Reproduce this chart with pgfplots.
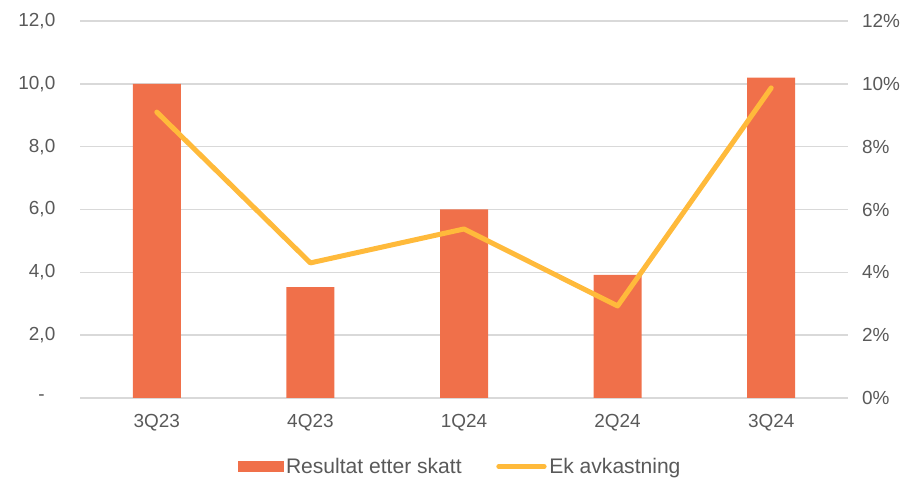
\documentclass[border=0pt]{standalone}
\usepackage{pgfplots}
\pgfplotsset{compat=1.18}
\usepackage{fontspec}
\setmainfont{Liberation Sans}
\definecolor{barc}{HTML}{F0704A}
\definecolor{linec}{HTML}{FFBA3B}
\definecolor{txt}{HTML}{595959}
\definecolor{gridc}{HTML}{D9D9D9}
\begin{document}
\begin{tikzpicture}
\useasboundingbox (0pt,0pt) rectangle (682.5pt,358.5pt);
\begin{axis}[
 at={(60pt,60pt)}, anchor=south west, scale only axis,
 width=576pt, height=282.75pt,
 xmin=-0.5, xmax=4.5, ymin=0, ymax=12,
 xtick={0,...,4}, xticklabels={3Q23,4Q23,1Q24,2Q24,3Q24},
 ytick={0,2,...,12}, yticklabels={-\hphantom{0},{2,0},{4,0},{6,0},{8,0},{10,0},{12,0}},
 ymajorgrids, grid style={gridc, line width=1.1pt},
 axis line style={draw=none}, major tick length=0pt,
 tick label style={font=\fontsize{14.2}{17}\selectfont, text=txt},
 yticklabel style={xshift=-15pt},
 xticklabel style={yshift=-9pt},
]
\addplot[ybar, bar width=36pt, fill=barc, draw=none] coordinates {(0,10.0) (1,3.53) (2,6.0) (3,3.92) (4,10.2)};
\end{axis}
\begin{axis}[
 at={(60pt,60pt)}, anchor=south west, scale only axis,
 width=576pt, height=282.75pt,
 xmin=-0.5, xmax=4.5, ymin=0, ymax=12,
 hide x axis, axis y line*=right,
 ytick={0,2,...,12}, yticklabels={0\%,2\%,4\%,6\%,8\%,10\%,12\%},
 axis line style={draw=none}, major tick length=0pt,
 tick label style={font=\fontsize{14.2}{17}\selectfont, text=txt},
 yticklabel style={xshift=7pt},
 legend columns=2,
 legend style={draw=none, fill=none, at={(0.4954,-0.182)}, anchor=center,
   font=\fontsize{15.8}{18}\selectfont, text=txt,
   /tikz/every even column/.append style={column sep=24pt}},
]
\addlegendimage{legend image code/.code={\fill[barc] (0pt,-3.75pt) rectangle (33.75pt,3.75pt);}}
\addlegendentry{Resultat etter skatt}
\addplot[linec, line width=3.75pt, line cap=round, line join=round,
 legend image code/.code={\draw[linec, line width=3.75pt, line cap=round] (1.5pt,0pt) -- (35.5pt,0pt);}]
 coordinates {(0,9.1) (1,4.3) (2,5.38) (3,2.93) (4,9.87)};
\addlegendentry{Ek avkastning}
\end{axis}
\end{tikzpicture}
\end{document}
